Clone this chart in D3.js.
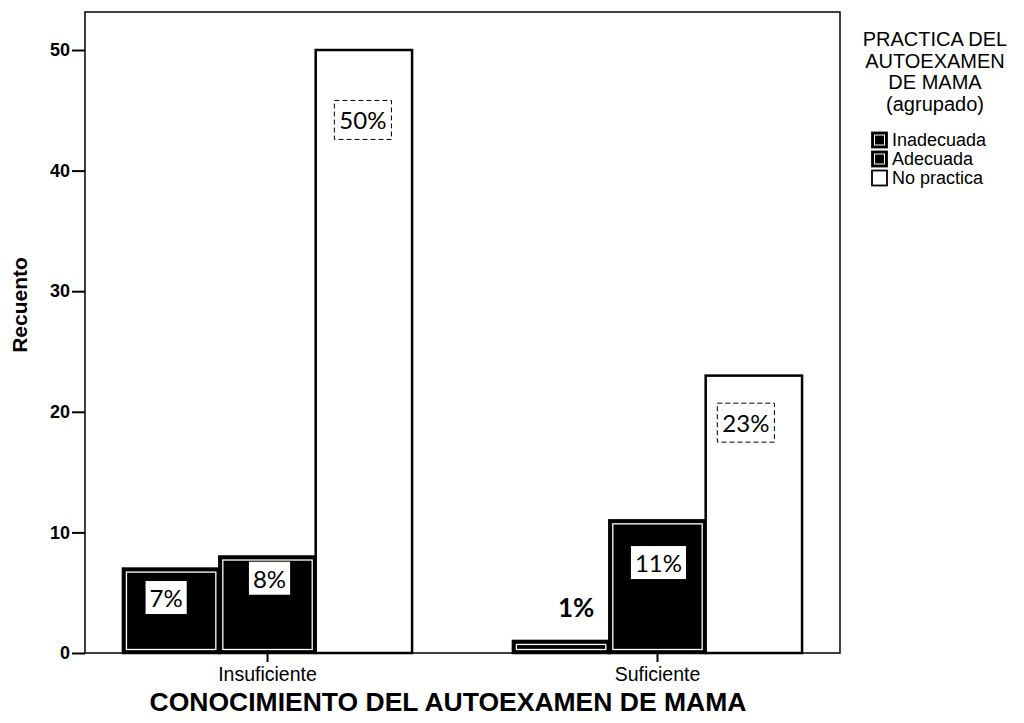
<!DOCTYPE html>
<html>
<head>
<meta charset="utf-8">
<script src="https://cdn.jsdelivr.net/npm/d3@7"></script>
<style>
  body { margin: 0; background: #fff; }
</style>
</head>
<body>
<svg id="chart" width="1024" height="723"></svg>
<script>
// data
var categories = ["Insuficiente", "Suficiente"];
var seriesNames = ["Inadecuada", "Adecuada", "No practica"];
var inadecuada = [7, 1];
var adecuada = [8, 11];
var noPractica = [50, 23];
var percentLabels = [["7%", "8%", "50%"], ["1%", "11%", "23%"]];
var yTicks = [0, 10, 20, 30, 40, 50];
var legendTitle = ["PRACTICA DEL", "AUTOEXAMEN", "DE MAMA", "(agrupado)"];

// where the pasted % boxes sit (dx in px from bar centre, at = height on the y scale)
var labelLayout = [
    [{ dx: -5, at: 4.6, box: "solid" }, { dx: 2, at: 6.2, box: "solid" }, { dx: -1, at: 44.2, box: "dashed" }],
    [{ dx: 15, at: 3.8, box: "none" }, { dx: 1, at: 7.5, box: "solid" }, { dx: -8, at: 19.1, box: "dashed" }]
];

var svg = d3.select("#chart");
var plot = { left: 85, right: 840, top: 12, bottom: 653 };
var seriesValues = [inadecuada, adecuada, noPractica];
var seriesFill = ["#000", "#000", "#fff"];
var arial = "'Liberation Sans', Arial, sans-serif";

var x0 = d3.scaleBand()
    .domain(categories)
    .range([plot.left, plot.right])
    .paddingInner(0.2586)
    .paddingOuter(0.0973);

var x1 = d3.scaleBand()
    .domain(seriesNames)
    .range([0, x0.bandwidth()]);

var y = d3.scaleLinear()
    .domain([0, 50])
    .range([plot.bottom, 50]);

// frame
svg.append("rect")
    .attr("x", plot.left).attr("y", plot.top)
    .attr("width", plot.right - plot.left)
    .attr("height", plot.bottom - plot.top)
    .attr("fill", "none")
    .attr("stroke", "#000")
    .attr("stroke-width", 1.5);

// bars
var groups = svg.selectAll("g.group")
    .data(categories)
    .enter()
    .append("g")
    .classed("group", true)
    .attr("transform", function (d) { return "translate(" + x0(d) + ",0)"; });

groups.each(function (cat, ci) {
    var g = d3.select(this);
    var rows = seriesNames.map(function (s, si) {
        return { series: s, si: si, value: seriesValues[si][ci] };
    });

    g.selectAll("rect.bar")
        .data(rows)
        .enter()
        .append("rect")
        .classed("bar", true)
        .attr("x", function (d) { return x1(d.series); })
        .attr("y", function (d) { return y(d.value); })
        .attr("width", x1.bandwidth())
        .attr("height", function (d) { return y(0) - y(d.value); })
        .attr("fill", function (d) { return seriesFill[d.si]; })
        .attr("stroke", "#000")
        .attr("stroke-width", 2.5);

    // white inner line on the dark bars
    g.selectAll("rect.inner")
        .data(rows.filter(function (d) { return d.si < 2; }))
        .enter()
        .append("rect")
        .classed("inner", true)
        .attr("x", function (d) { return x1(d.series) + 3.5; })
        .attr("y", function (d) { return y(d.value) + 3.5; })
        .attr("width", x1.bandwidth() - 7)
        .attr("height", function (d) { return Math.max(2, y(0) - y(d.value) - 7); })
        .attr("fill", "none")
        .attr("stroke", "#fff")
        .attr("stroke-width", 1.3);

    // percentage labels
    rows.forEach(function (d) {
        var lay = labelLayout[ci][d.si];
        var cx = x1(d.series) + x1.bandwidth() / 2 + lay.dx;
        var cy = y(lay.at);
        var lg = g.append("g").classed("pct", true);
        var t = lg.append("text")
            .attr("x", cx)
            .attr("y", cy)
            .attr("text-anchor", "middle")
            .attr("dominant-baseline", "central")
            .attr("font-family", "Lato, 'Open Sans', sans-serif")
            .attr("font-size", lay.box === "none" ? 26 : 24)
            .attr("font-weight", lay.box === "none" ? 700 : 400)
            .attr("fill", "#000")
            .text(percentLabels[ci][d.si]);
        if (lay.box !== "none") {
            var bb = t.node().getBBox();
            var px = lay.box === "dashed" ? 5 : 4;
            var py = lay.box === "dashed" ? 6 : 3;
            lg.insert("rect", "text")
                .attr("x", bb.x - px)
                .attr("y", bb.y - py + 1)
                .attr("width", bb.width + 2 * px)
                .attr("height", bb.height + 2 * py - 2)
                .attr("fill", "#fff")
                .attr("stroke", lay.box === "dashed" ? "#000" : "none")
                .attr("stroke-width", 1)
                .attr("stroke-dasharray", "5,3");
        }
    });
});

// y axis
var yAxis = svg.append("g")
    .classed("y-axis", true)
    .attr("transform", "translate(" + plot.left + ",0)")
    .call(d3.axisLeft(y).tickValues(yTicks).tickSize(13).tickSizeOuter(0).tickPadding(2));
yAxis.select(".domain").remove();
yAxis.selectAll(".tick line").attr("stroke", "#000").attr("stroke-width", 2);
yAxis.selectAll(".tick text")
    .attr("font-family", arial)
    .attr("font-size", 18)
    .attr("font-weight", 700)
    .attr("fill", "#000");

// x axis
var xAxis = svg.append("g")
    .classed("x-axis", true)
    .attr("transform", "translate(0," + plot.bottom + ")")
    .call(d3.axisBottom(x0).tickSize(9).tickSizeOuter(0).tickPadding(5));
xAxis.select(".domain").remove();
xAxis.selectAll(".tick line").attr("stroke", "#000").attr("stroke-width", 2);
xAxis.selectAll(".tick text")
    .attr("font-family", arial)
    .attr("font-size", 19.5)
    .attr("fill", "#000");

// axis titles
svg.append("text")
    .attr("transform", "translate(27,305) rotate(-90)")
    .attr("text-anchor", "middle")
    .attr("font-family", arial)
    .attr("font-size", 21)
    .attr("font-weight", 700)
    .text("Recuento");

svg.append("text")
    .attr("x", 448)
    .attr("y", 711)
    .attr("text-anchor", "middle")
    .attr("font-family", arial)
    .attr("font-size", 26.5)
    .attr("font-weight", 700)
    .text("CONOCIMIENTO DEL AUTOEXAMEN DE MAMA");

// legend
var legend = svg.append("g").classed("legend", true);
legend.selectAll("text.title")
    .data(legendTitle)
    .enter()
    .append("text")
    .classed("title", true)
    .attr("x", 935)
    .attr("y", function (d, i) { return 46 + i * 21.5; })
    .attr("text-anchor", "middle")
    .attr("font-family", arial)
    .attr("font-size", 20)
    .text(function (d) { return d; });

var items = legend.selectAll("g.item")
    .data(seriesNames)
    .enter()
    .append("g")
    .classed("item", true)
    .attr("transform", function (d, i) { return "translate(872," + (140 + i * 19) + ")"; });

items.append("rect")
    .attr("x", 0).attr("y", -7.5)
    .attr("width", 15).attr("height", 15)
    .attr("fill", function (d, i) { return seriesFill[i]; })
    .attr("stroke", "#000")
    .attr("stroke-width", 1.8);
items.filter(function (d, i) { return i < 2; })
    .append("rect")
    .attr("x", 2.5).attr("y", -5)
    .attr("width", 10).attr("height", 10)
    .attr("fill", "none")
    .attr("stroke", "#fff")
    .attr("stroke-width", 1);
items.append("text")
    .attr("x", 20)
    .attr("y", 0)
    .attr("dominant-baseline", "central")
    .attr("font-family", arial)
    .attr("font-size", 18)
    .text(function (d) { return d; });
</script>
</body>
</html>
